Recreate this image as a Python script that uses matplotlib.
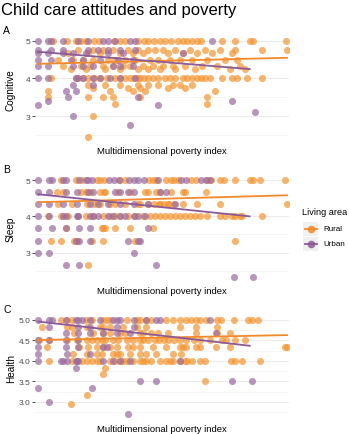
import matplotlib
matplotlib.use("Agg")
import matplotlib.pyplot as plt
from matplotlib.lines import Line2D
from matplotlib.patches import Rectangle

plt.rcParams['font.family'] = ['Liberation Sans', 'DejaVu Sans']

# Data: poverty index (0-1 scaled) of each point, grouped by score level
cog_rural = {
    5.0: [.06, .115, .15, .17, .19, .225, .245, .305, .33, .35, .40, .425, .44, .465, .49, .51, .535,
          .56, .58, .60, .62, .64, .655, .74, .79, .85, .865, .995],
    4.75: [.16, .22, .26, .30, .36, .40, .44, .47, .50, .55, .61, .67, .73, .79, .90, 1.0],
    4.67: [.12, .20, .25, .33, .38, .42, .52, .58, .64, .70, .78],
    4.5: [.08, .14, .18, .22, .28, .31, .35, .39, .45, .48, .53, .57, .62, .68, .75, .80],
    4.33: [.10, .17, .21, .26, .30, .34, .37, .42, .46, .50, .54, .59, .66, .72, .81],
    4.25: [.13, .19, .27, .33, .40, .44, .49, .55, .63, .77, .83],
    4.0: [.05, .15, .18, .20, .225, .25, .275, .31, .33, .35, .37, .385, .40, .41, .425, .44, .46, .48,
          .51, .53, .55, .58, .60, .62, .64, .655, .67, .69, .74, .78, .80, .84, .90],
    3.83: [.20, .27, .33, .40, .44, .48, .54, .57, .62],
    3.75: [.22, .36, .41, .52, .59],
    3.67: [.04, .29, .38, .43, .71],
    3.5: [.04, .20, .26, .30, .41, .68],
    3.33: [.31, .68],
    3.0: [.22],
    2.43: [.20],
}
cog_urban = {
    5.0: [0, .04, .05, .10, .16, .20, .26, .28, .31, .37, .39, .70],
    4.75: [0, .05, .10, .20, .24, .28, .33, .39],
    4.67: [0, .04, .10, .14, .19, .28, .34, .58],
    4.5: [0, .05, .13, .18, .25, .32, .38],
    4.33: [0, .04, .14, .18, .22, .30, .33, .38],
    4.0: [0, .04, .15, .16, .18, .22, .25, .29, .33, .39],
    3.83: [.14, .22],
    3.67: [.11, .15],
    3.5: [.12, .40],
    3.4: [.04, .78],
    3.3: [0, .48],
    3.1: [.87],
    3.0: [.14],
    2.75: [.37],
}
sleep_rural = {
    5.0: [.09, .15, .175, .235, .25, .265, .33, .35, .445, .46, .475, .515, .535, .545, .56, .615, .635,
          .68, .695, .73, .745, .79, .85, .865, .89, .99],
    4.67: [.075, .10, .17, .19, .21, .25, .265, .27, .32, .37, .43, .44, .475, .49, .535, .58, .59, .675],
    4.33: [.08, .135, .195, .225, .25, .29, .31, .35, .40, .41, .44, .465, .485, .49, .505, .52, .525,
           .545, .58, .64, .73, 1.0],
    4.0: [.04, .09, .12, .16, .19, .22, .26, .29, .31, .33, .36, .39, .42, .45, .47, .49, .51, .53, .55,
          .57, .59, .61, .63, .65, .68, .73, .75, .78, .79, .81, .82, .90],
    3.67: [.11, .255, .26, .27, .31, .37, .46],
    3.33: [.05, .09, .145, .155, .215, .26, .39, .79],
    2.67: [.20],
}
sleep_urban = {
    5.0: [0, .045, .055, .10, .11, .165, .19, .20, .215, .285, .305, .325, .365, .385, .40, .425, .48,
          .575, .595, .655, .675, .69],
    4.67: [0, .045, .11, .155, .20, .22, .31, .33, .36, .385, .49, .515],
    4.33: [0, .045, .10, .155, .21, .24, .28, .33, .385, .44, .55],
    4.0: [0, .045, .10, .11, .155, .16, .21, .22, .24, .28, .30, .33, .35, .385, .40, .43],
    3.67: [0, .055, .11, .165, .21, .44],
    3.33: [0, .15, .165, .21, .36, .40, .41],
    3.0: [0, .045, .385],
    2.67: [.11, .165, .475],
    2.33: [.785, .865],
}
health_rural = {
    5.0: [.09, .115, .135, .19, .215, .26, .275, .29, .355, .395, .41, .435, .455, .515, .54, .57, .595,
          .615, .635, .65, .675, .72, .735, .785, .845, .86, .885],
    4.83: [.015, .115, .135, .195, .25, .26, .29, .34, .395, .435, .57, .635, .72],
    4.67: [.145, .22, .26, .29, .33, .35, .41, .42, .455, .48, .52, .635, .72, .77],
    4.5: [.005, .045, .115, .155, .195, .215, .235, .255, .27, .30, .32, .355, .38, .41, .42, .44, .47,
          .485, .505, .52, .545, .57, .595, .625, .65, .69, .74, .755, .79, .83],
    4.33: [.035, .165, .20, .235, .26, .29, .315, .36, .38, .41, .46, .515, .57, .58, .595, .635, .65,
           .715, .77, .99, 1.0],
    4.17: [.14, .195, .235, .255, .30, .315, .33, .37, .41, .435, .475, .54, .575],
    4.0: [.045, .135, .175, .195, .215, .235, .25, .29, .31, .33, .34, .355, .38, .41, .42, .435, .455,
          .49, .515, .53, .54, .57, .59, .60, .62, .65, .67, .775, .79, .82, .89],
    3.83: [.27],
    3.67: [.26],
    3.5: [.67],
    3.17: [.195],
    2.96: [.13],
}
health_urban = {
    5.0: [0, .045, .055, .11, .15, .16, .175, .21, .25, .30, .315, .33, .385, .435, .475, .49, .69],
    4.83: [.045, .16, .21, .315, .385],
    4.67: [.11, .16, .21, .26, .315, .37, .715],
    4.5: [0, .045, .11, .16],
    4.33: [0, .11, .16, .26, .275],
    4.17: [0, .115, .21],
    4.0: [0, .09, .10, .115, .15, .155, .16, .26, .30, .33, .37, .57],
    3.83: [.15],
    3.5: [.41, .475, .78, .86],
    3.33: [0, .215],
    3.0: [.045],
    2.7: [.36],
}

# fitted lm lines (start/end x, start/end y)
fit_x_rural = [0, 1.0]
fit_x_urban = [0, .85]
cog_fit = {"Rural": [4.39, 4.55], "Urban": [4.71, 4.25]}
sleep_fit = {"Rural": [4.39, 4.58], "Urban": [4.61, 4.0]}
health_fit = {"Rural": [4.51, 4.63], "Urban": [4.96, 4.37]}

panel_letters = ["A", "B", "C"]
outcomes = ["Cognitive", "Sleep", "Health"]
xlabel = "Multidimensional poverty index"

pt_orange = "#F5952F"
pt_purple = "#9B6A9E"
ln_orange = "#F28A2A"
ln_purple = "#8C5A97"

W, H = 349, 435
fig = plt.figure(figsize=(W / 100, H / 100), dpi=100)

# panel boxes in pixels: (top, bottom), and y-limits
boxes = [(37, 143), (176, 283), (316, 421)]
ylims = [(2.31, 5.13), (2.19, 5.14), (2.56, 5.12)]
yticks = [[3, 4, 5], [3, 4, 5], [3.0, 3.5, 4.0, 4.5, 5.0]]
yminor = [[2.5, 3.5, 4.5], [2.5, 3.5, 4.5], [2.75, 3.25, 3.75, 4.25, 4.75]]
ytlabels = [["3", "4", "5"], ["3", "4", "5"], ["3.0", "3.5", "4.0", "4.5", "5.0"]]
data = [(cog_rural, cog_urban, cog_fit), (sleep_rural, sleep_urban, sleep_fit),
        (health_rural, health_urban, health_fit)]

left, right = 35, 289
for i, (top, bot) in enumerate(boxes):
    ax = fig.add_axes([left / W, 1 - bot / H, (right - left) / W, (bot - top) / H])
    rural, urban, fit = data[i]
    for grp, col in [(rural, pt_orange), (urban, pt_purple)]:
        xs = [x for lvl, v in grp.items() for x in v]
        ys = [lvl for lvl, v in grp.items() for x in v]
        ax.scatter(xs, ys, s=26, color=col, alpha=0.7, linewidths=0, zorder=3)
    ax.plot(fit_x_rural, fit["Rural"], color=ln_orange, lw=1.3, zorder=4)
    ax.plot(fit_x_urban, fit["Urban"], color=ln_purple, lw=1.3, zorder=4)

    ax.set_xlim(-0.013, 1.008)
    ax.set_ylim(*ylims[i])
    ax.set_xticks([])
    ax.set_yticks(yticks[i])
    ax.set_yticklabels(ytlabels[i])
    ax.set_yticks(yminor[i], minor=True)
    ax.grid(axis='y', which='major', color='#EBEBEB', lw=0.7, zorder=0)
    ax.grid(axis='y', which='minor', color='#F3F3F3', lw=0.5, zorder=0)
    ax.tick_params(axis='y', which='major', length=2, width=0.6, color='#333333',
                   labelsize=6, labelcolor='#4D4D4D', pad=1.5)
    ax.tick_params(axis='y', which='minor', length=0)
    for s in ax.spines.values():
        s.set_visible(False)
    ax.set_ylabel(outcomes[i], fontsize=7.2)
    ax.yaxis.set_label_coords(-19 / (right - left), 0.5)
    ax.set_xlabel(xlabel, fontsize=6.8, labelpad=3)
    fig.text(3 / W, 1 - (top - 6) / H, panel_letters[i], fontsize=7.5, va='center', ha='left')

fig.text(1 / W, 1 - 10 / H, "Child care attitudes and poverty", fontsize=12, va='center', ha='left')

# legend
fig.text(302 / W, 1 - 213 / H, "Living area", fontsize=6.6, va='center', ha='left')
for yc, lab, col in [(230, "Rural", ln_orange), (245, "Urban", ln_purple)]:
    fig.patches.append(Rectangle((303 / W, 1 - (yc + 7) / H), 15 / W, 14 / H,
                                 transform=fig.transFigure, color='#F0F0F0', lw=0))
    fig.lines.append(Line2D([304.5 / W, 316.5 / W], [1 - yc / H, 1 - yc / H], transform=fig.transFigure,
                            color=col, lw=1.3))
    fig.lines.append(Line2D([310.5 / W], [1 - yc / H], transform=fig.transFigure,
                            color=col, marker='o', ms=4.5, lw=0, alpha=0.8))
    fig.text(323 / W, 1 - yc / H, lab, fontsize=5.8, va='center', ha='left')

fig.savefig("out.png", dpi=100)
